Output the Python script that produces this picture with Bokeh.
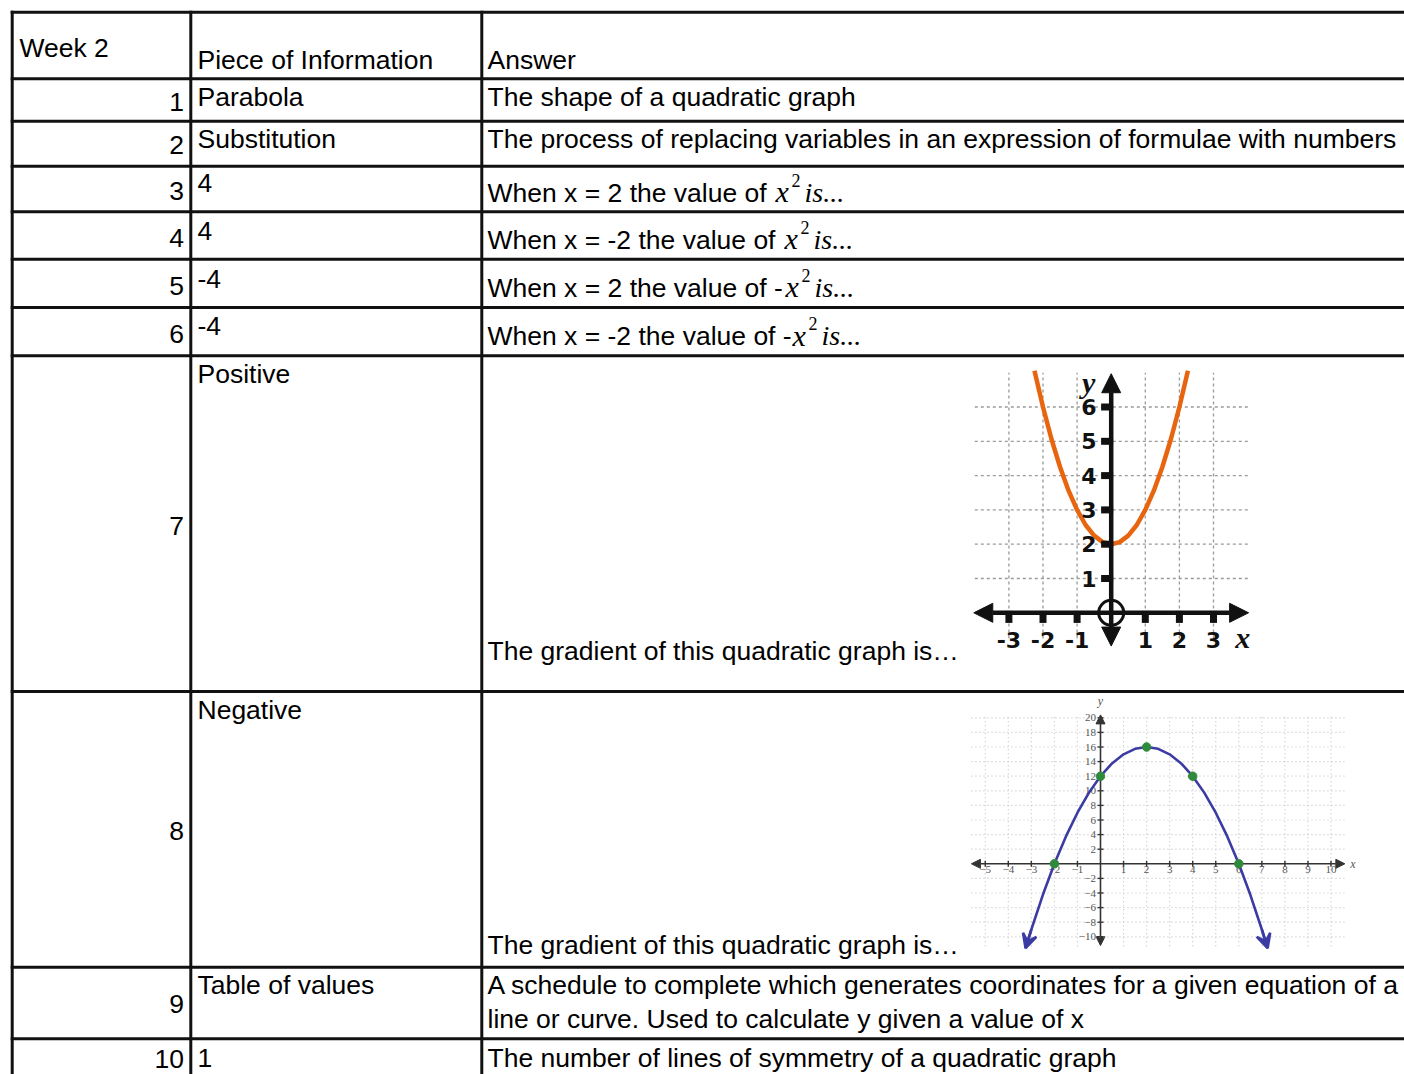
from bokeh.plotting import figure
from bokeh.models import Range1d, Arrow, NormalHead, VeeHead
from bokeh.core.properties import value
from bokeh.embed import file_html
from bokeh.resources import INLINE

# ------------------------------------------------------------------ content
header_texts = ["Week 2", "Piece of Information", "Answer"]
row_numbers = ["1", "2", "3", "4", "5", "6", "7", "8", "9", "10"]
pieces = ["Parabola", "Substitution", "4", "4", "-4", "-4",
          "Positive", "Negative", "Table of values", "1"]
answer_lines = [
    ["The shape of a quadratic graph"],
    ["The process of replacing variables in an expression of formulae with numbers"],
    ["When x = 2 the value of "],
    ["When x = -2 the value of "],
    ["When x = 2 the value of -"],
    ["When x = -2 the value of -"],
    ["The gradient of this quadratic graph is\u2026"],
    ["The gradient of this quadratic graph is\u2026"],
    ["A schedule to complete which generates coordinates for a given equation of a",
     "line or curve. Used to calculate y given a value of x"],
    ["The number of lines of symmetry of a quadratic graph"],
]
math_rows = [2, 3, 4, 5]
math_var = "x"
math_exp = "2"
math_tail = "is..."

# graph 1 (positive parabola) values
g1_x_ticks = [-3, -2, -1, 1, 2, 3]
g1_x_labels = ["-3", "-2", "-1", "1", "2", "3"]
g1_y_ticks = [1, 2, 3, 4, 5, 6]
g1_y_labels = ["1", "2", "3", "4", "5", "6"]
g1_curve_x = [-2.25, -2.0, -1.75, -1.5, -1.25, -1.0, -0.75, -0.5, -0.25, 0.0,
              0.25, 0.5, 0.75, 1.0, 1.25, 1.5, 1.75, 2.0, 2.25]
g1_curve_y = [7.06, 6.0, 5.06, 4.25, 3.56, 3.0, 2.56, 2.25, 2.06, 2.0,
              2.06, 2.25, 2.56, 3.0, 3.56, 4.25, 5.06, 6.0, 7.06]

# graph 2 (negative parabola) values
g2_x_ticks = [-5, -4, -3, -2, -1, 1, 2, 3, 4, 5, 6, 7, 8, 9, 10]
g2_x_labels = ["\u22125", "\u22124", "\u22123", "\u22122", "\u22121", "1", "2", "3",
               "4", "5", "6", "7", "8", "9", "10"]
g2_y_ticks = [-10, -8, -6, -4, -2, 2, 4, 6, 8, 10, 12, 14, 16, 18, 20]
g2_y_labels = ["\u221210", "\u22128", "\u22126", "\u22124", "\u22122", "2", "4", "6",
               "8", "10", "12", "14", "16", "18", "20"]
g2_curve_x = [-3.25, -3.0, -2.5, -2.0, -1.5, -1.0, -0.5, 0.0, 0.5, 1.0, 1.5, 2.0,
              2.5, 3.0, 3.5, 4.0, 4.5, 5.0, 5.5, 6.0, 6.5, 7.0, 7.25]
g2_curve_y = [-11.56, -9.0, -4.25, 0.0, 3.75, 7.0, 9.75, 12.0, 13.75, 15.0, 15.75, 16.0,
              15.75, 15.0, 13.75, 12.0, 9.75, 7.0, 3.75, 0.0, -4.25, -9.0, -11.56]
g2_points_x = [-2, 0, 2, 4, 6]
g2_points_y = [0, 12, 16, 12, 0]

# ------------------------------------------------------------------ layout
W, H = 1404, 1074
LEFT, TOP = 0, 0                      # data coords == screen px
row_edges = [11.7, 78.3, 120.7, 165.7, 211.3, 258.7, 307.0, 355.3, 691.0, 966.7, 1038.3]
col_edges = [11.7, 190.3, 481.3]
header_x = [19, 197, 487]
header_base = [57, 69, 69]
num_right = 183.5
piece_left = 197
answer_left = 487
num_base = [110.7, 154.0, 199.3, 246.7, 294.3, 342.3, 534.3, 839.3, 1012.7, 1067.5]
piece_base = [106.0, 147.3, 191.7, 239.3, 287.3, 335.0, 382.7, 718.3, 993.3, 1066.7]
answer_base = [[106.0], [147.3], [201.7], [248.3], [296.7], [345.0],
               [660.0], [953.3], [993.3, 1028.0], [1066.7]]
math_left = [775, 784, 785, 792]
FONT = "Liberation Sans"
FS = 26.5
MID = 0.35          # baseline -> middle of the text box, in em

# graph placement (origin in px, px per unit)
G1_O = (1110.7, 612.3); G1_U = (34.1, 34.3)
G2_O = (1100.0, 863.3); G2_U = (23.05, 7.3)

p = figure(width=W, height=H, output_backend="svg", toolbar_location=None,
           x_axis_type=None, y_axis_type=None, min_border=0,
           x_range=Range1d(LEFT, LEFT + W), y_range=Range1d(TOP + H, TOP))
p.outline_line_color = None
p.background_fill_color = "white"


def extra(name, origin, unit):
    ox, oy = origin
    ux, uy = unit
    p.extra_x_ranges[name + "x"] = Range1d((LEFT - ox) / ux, (LEFT + W - ox) / ux)
    p.extra_y_ranges[name + "y"] = Range1d((oy - (TOP + H)) / uy, (oy - TOP) / uy)


extra("g1", G1_O, G1_U)
extra("g2", G2_O, G2_U)
UNITS = {"default": -1.0, "g1": G1_U[1], "g2": G2_U[1]}


def txt(x, y, s, size=FS, font=FONT, style="normal", align="left",
        baseline="alphabetic", color="black", rn="default"):
    kw = {}
    if rn != "default":
        kw = dict(x_range_name=rn + "x", y_range_name=rn + "y")
    if baseline == "alphabetic":
        # place by the middle of the text box: more reliable than alphabetic
        shift = MID * size / UNITS[rn]
        y = [v + shift for v in y]
        baseline = "middle"
    p.text(x=x, y=y, text=s, text_font=value(font), text_font_size=value(f"{size}px"),
           text_font_style=style, text_align=align, text_baseline=baseline,
           text_color=color, **kw)


# ------------------------------------------------------------------ table
p.segment(x0=[col_edges[0] - 1.5] * len(row_edges), y0=row_edges,
          x1=[LEFT + W + 5] * len(row_edges), y1=row_edges,
          line_color="#111111", line_width=3)
p.segment(x0=col_edges, y0=[row_edges[0] - 1.5] * len(col_edges),
          x1=col_edges, y1=[TOP + H + 5] * len(col_edges),
          line_color="#111111", line_width=3)

txt(header_x, header_base, header_texts)
txt([num_right] * len(row_numbers), num_base, row_numbers, align="right")
txt([piece_left] * len(pieces), piece_base, pieces)
ax, ay, at = [], [], []
for lines, bases in zip(answer_lines, answer_base):
    for s, b in zip(lines, bases):
        ax.append(answer_left); ay.append(b); at.append(s)
txt(ax, ay, at)

# inline maths  x^2 is...
mb = [answer_base[r][0] for r in math_rows]
txt(math_left, mb, [math_var] * len(math_rows), size=30,
    font="Liberation Serif", style="italic")
txt([m + 16 for m in math_left], [b - 15.5 for b in mb], [math_exp] * len(math_rows),
    size=18, font="Liberation Serif")
txt([m + 29 for m in math_left], mb, [math_tail] * len(math_rows), size=28,
    font="Liberation Serif", style="italic")

# ------------------------------------------------------------------ graph 1
g1 = dict(x_range_name="g1x", y_range_name="g1y")
p.segment(x0=g1_x_ticks, y0=[-0.75] * len(g1_x_ticks), x1=g1_x_ticks,
          y1=[7.0] * len(g1_x_ticks), line_color="#9a9a9a", line_dash="3 3",
          line_width=1.3, **g1)
p.segment(x0=[-4.0] * len(g1_y_ticks), y0=g1_y_ticks, x1=[4.05] * len(g1_y_ticks),
          y1=g1_y_ticks, line_color="#9a9a9a", line_dash="3 3", line_width=1.3, **g1)
p.line(g1_curve_x, g1_curve_y, line_color="#e8650f", line_width=4.5, **g1)

head = dict(size=19, fill_color="#111111", line_color="#111111")
p.add_layout(Arrow(start=NormalHead(**head), end=NormalHead(**head),
                   x_start=-4.03, y_start=0, x_end=4.03, y_end=0,
                   line_width=4.5, line_color="#111111", **g1))
p.add_layout(Arrow(start=NormalHead(**head), end=NormalHead(**head),
                   x_start=0, y_start=-0.97, x_end=0, y_end=6.97,
                   line_width=4.5, line_color="#111111", **g1))
p.rect(x=g1_x_ticks, y=[-0.12] * len(g1_x_ticks), width=7, height=12,
       width_units="screen", height_units="screen", fill_color="#111111",
       line_color=None, **g1)
p.rect(x=[-0.12] * len(g1_y_ticks), y=g1_y_ticks, width=12, height=7,
       width_units="screen", height_units="screen", fill_color="#111111",
       line_color=None, **g1)
p.scatter(x=[0], y=[0], marker="circle", size=25, fill_color=None,
          line_color="#111111", line_width=3, **g1)
txt([-0.43] * len(g1_y_ticks), g1_y_ticks, g1_y_labels, size=22,
    font="DejaVu Sans", style="bold", align="right", baseline="middle",
    color="#111111", rn="g1")
txt(g1_x_ticks, [-1.02] * len(g1_x_ticks), g1_x_labels, size=22,
    font="DejaVu Sans", style="bold", align="center", color="#111111", rn="g1")
txt([-0.66], [6.72], ["y"], size=30, font="Liberation Serif",
    style="bold italic", align="center", baseline="middle", color="#111111", rn="g1")
txt([3.86], [-1.02], ["x"], size=30, font="Liberation Serif",
    style="bold italic", align="center", color="#111111", rn="g1")

# ------------------------------------------------------------------ graph 2
g2 = dict(x_range_name="g2x", y_range_name="g2y")
p.segment(x0=g2_x_ticks, y0=[-11.3] * len(g2_x_ticks), x1=g2_x_ticks,
          y1=[20.3] * len(g2_x_ticks), line_color="#c4c4c4", line_dash="1 3",
          line_width=1.2, **g2)
p.segment(x0=[-5.6] * len(g2_y_ticks), y0=g2_y_ticks, x1=[10.6] * len(g2_y_ticks),
          y1=g2_y_ticks, line_color="#c4c4c4", line_dash="1 3", line_width=1.2, **g2)

head2 = dict(size=9, fill_color="#333333", line_color="#333333")
p.add_layout(Arrow(start=NormalHead(**head2), end=NormalHead(**head2),
                   x_start=-5.6, y_start=0, x_end=10.6, y_end=0,
                   line_width=1.6, line_color="#333333", level="underlay", **g2))
p.add_layout(Arrow(start=NormalHead(**head2), end=NormalHead(**head2),
                   x_start=0, y_start=-11.2, x_end=0, y_end=20.4,
                   line_width=1.6, line_color="#333333", level="underlay", **g2))
p.rect(x=g2_x_ticks, y=[0] * len(g2_x_ticks), width=1.4, height=6,
       width_units="screen", height_units="screen", fill_color="#333333",
       line_color=None, **g2)
p.rect(x=[0] * len(g2_y_ticks), y=g2_y_ticks, width=6, height=1.4,
       width_units="screen", height_units="screen", fill_color="#333333",
       line_color=None, **g2)
txt(g2_x_ticks, [-0.3] * len(g2_x_ticks), g2_x_labels, size=11,
    font="Liberation Serif", align="center", baseline="top", color="#555555", rn="g2")
txt([-0.2] * len(g2_y_ticks), g2_y_ticks, g2_y_labels, size=11,
    font="Liberation Serif", align="right", baseline="middle", color="#555555", rn="g2")
txt([10.95], [0], ["x"], size=12, font="Liberation Serif", style="italic",
    align="center", baseline="middle", color="#555555", rn="g2")
txt([0], [22.3], ["y"], size=12, font="Liberation Serif", style="italic",
    align="center", baseline="middle", color="#555555", rn="g2")

p.line(g2_curve_x, g2_curve_y, line_color="#3b3ba3", line_width=2.6, **g2)
vee = dict(size=14, line_color="#3b3ba3", line_width=2.6)
p.add_layout(Arrow(end=VeeHead(fill_color="#3b3ba3", **vee), x_start=g2_curve_x[1],
                   y_start=g2_curve_y[1], x_end=g2_curve_x[0], y_end=g2_curve_y[0],
                   line_width=2.6, line_color="#3b3ba3", **g2))
p.add_layout(Arrow(end=VeeHead(fill_color="#3b3ba3", **vee), x_start=g2_curve_x[-2],
                   y_start=g2_curve_y[-2], x_end=g2_curve_x[-1], y_end=g2_curve_y[-1],
                   line_width=2.6, line_color="#3b3ba3", **g2))
p.scatter(g2_points_x, g2_points_y, marker="circle", size=8.5,
          fill_color="#2f8a3c", line_color="#2f8a3c", **g2)

open("out.html", "w").write(file_html(p, INLINE))
